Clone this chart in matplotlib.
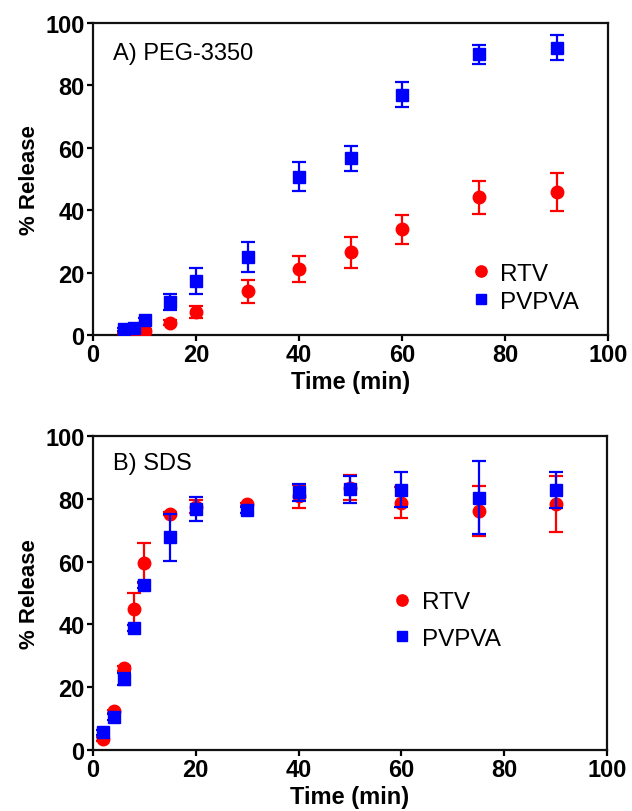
import matplotlib
matplotlib.use("Agg")
import matplotlib.pyplot as plt

plt.rcParams['font.family'] = ['Liberation Sans', 'DejaVu Sans']

# Panel A: PEG-3350
t_a = [6, 8, 10, 15, 20, 30, 40, 50, 60, 75, 90]
rtv_a = [0.3, 0.5, 1.4, 3.9, 7.3, 14.0, 21.2, 26.5, 33.9, 44.1, 45.9]
rtv_a_err = [0.3, 0.3, 0.5, 0.8, 2.0, 3.7, 4.2, 5.0, 4.6, 5.3, 6.0]
pvpva_a = [1.9, 2.1, 4.8, 10.5, 17.4, 24.9, 50.7, 56.6, 77.0, 90.0, 92.1]
pvpva_a_err = [0.5, 0.5, 0.8, 2.6, 4.2, 4.8, 4.6, 4.1, 4.0, 3.0, 4.0]

# Panel B: SDS
t_b = [2, 4, 6, 8, 10, 15, 20, 30, 40, 50, 60, 75, 90]
rtv_b = [3.5, 12.3, 26.0, 44.9, 59.6, 75.2, 77.5, 78.3, 80.8, 83.5, 78.7, 76.2, 78.3]
rtv_b_err = [0.5, 0.5, 0.8, 5.0, 6.3, 0.5, 2.0, 0.5, 3.6, 4.0, 4.9, 7.9, 9.0]
pvpva_b = [5.6, 10.4, 22.6, 38.8, 52.5, 67.7, 76.8, 76.5, 82.1, 83.0, 82.9, 80.3, 82.8]
pvpva_b_err = [0.8, 1.0, 1.8, 1.0, 1.0, 7.5, 3.9, 1.0, 2.7, 4.3, 5.5, 11.6, 5.6]

ticks = [0, 20, 40, 60, 80, 100]
series_names = ['RTV', 'PVPVA']
RED = '#ff0000'
BLUE = '#0000ff'

W, H = 632, 812
fig = plt.figure(figsize=(W / 100, H / 100), dpi=100)

def px_axes(left, top, right, bottom):
    return fig.add_axes([left / W, 1 - bottom / H, (right - left) / W, (bottom - top) / H])

ax_a = px_axes(93, 24, 608, 336)
ax_b = px_axes(93, 437, 607, 751)

def draw(ax, t, r, re, p, pe, title, title_xy, leg_xy, labelspacing):
    ax.errorbar(t, r, yerr=re, fmt='none', ecolor=RED, elinewidth=1.6,
                capsize=5, capthick=1.6, zorder=2)
    ax.plot(t, r, 'o', color=RED, markersize=9, label=series_names[0], zorder=3)
    ax.errorbar(t, p, yerr=pe, fmt='none', ecolor=BLUE, elinewidth=1.6,
                capsize=5, capthick=1.6, zorder=4)
    ax.plot(t, p, 's', color=BLUE, markersize=8.5, label=series_names[1], zorder=5)
    ax.set_xlim(0, 100)
    ax.set_ylim(0, 100)
    ax.set_xticks(ticks)
    ax.set_yticks(ticks)
    for s in ax.spines.values():
        s.set_linewidth(1.6)
        s.set_color('#111111')
    ax.tick_params(direction='out', length=4, width=1.6, labelsize=17, pad=2)
    for lab in ax.get_xticklabels() + ax.get_yticklabels():
        lab.set_fontweight('bold')
    ax.set_xlabel('Time (min)', fontsize=17, fontweight='bold', labelpad=3)
    ax.set_ylabel('% Release', fontsize=16, fontweight='bold', labelpad=4)
    ax.text(title_xy[0], title_xy[1], title, transform=ax.transAxes,
            fontsize=17, va='baseline', ha='left')
    ax.legend(loc='center left', bbox_to_anchor=leg_xy, frameon=False,
              fontsize=17.5, handlelength=1.0, handletextpad=0.3,
              borderpad=0, borderaxespad=0, labelspacing=labelspacing,
              markerscale=0.9)

draw(ax_a, t_a, rtv_a, rtv_a_err, pvpva_a, pvpva_a_err, 'A) PEG-3350',
     (0.039, 0.885), (0.729, 0.152), 0.25)
draw(ax_b, t_b, rtv_b, rtv_b_err, pvpva_b, pvpva_b_err, 'B) SDS',
     (0.039, 0.895), (0.578, 0.412), 0.6)

fig.savefig('out.png', dpi=100)
